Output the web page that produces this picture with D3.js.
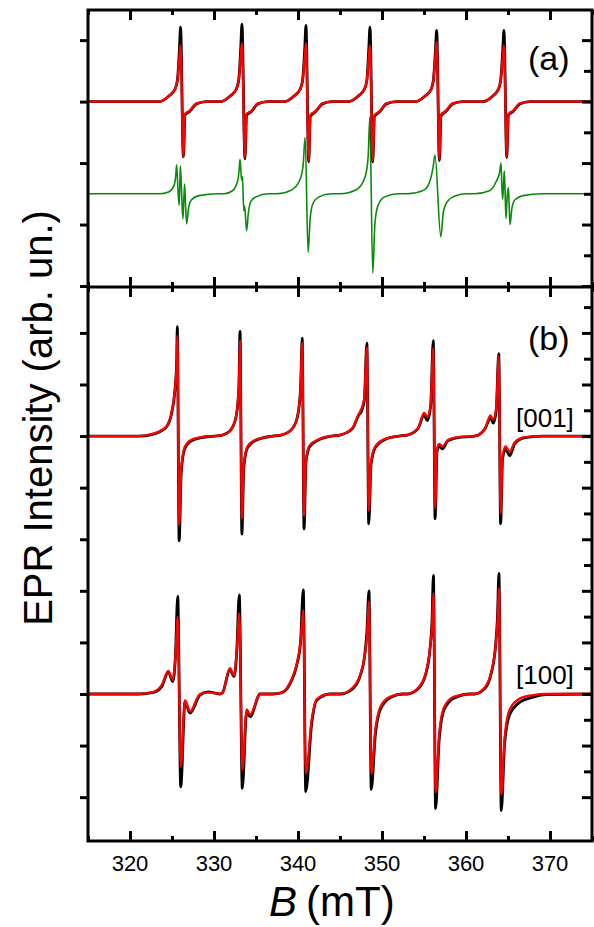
<!DOCTYPE html>
<html>
<head>
<meta charset="utf-8">
<script src="https://cdn.jsdelivr.net/npm/d3@7"></script>
<style>
  body { margin: 0; background: #fff; }
  text { font-family: Arial, "Liberation Sans", sans-serif; }
</style>
</head>
<body>
<div id="chart"></div>
<script>
// field axis
var fieldRange = [315, 375];
var fieldTicks = [320, 330, 340, 350, 360, 370];

// panel (a): experiment (black), fit (red), simulated components (green)
var aExp = [[315,3],[323.5,3],[324.7,3.1],[325.35,3.2],[325.65,3.35],[325.88,3.84],[326.02,4.21],[326.35,2.1],[326.55,2.78],[327.1,2.84],[327.9,2.96],[329.1,3],
  [330.8,3],[332,3.1],[332.65,3.2],[332.95,3.36],[333.18,3.86],[333.33,4.26],[333.68,2.07],[333.88,2.78],[334.45,2.84],[335.2,2.96],[336.4,3],
  [338.4,3],[339.6,3.1],[340.25,3.2],[340.55,3.35],[340.8,3.85],[340.95,4.24],[341.27,2.02],[341.47,2.76],[342.05,2.83],[342.9,2.96],[344,3],
  [346,3],[347.25,3.1],[347.9,3.2],[348.2,3.35],[348.42,3.84],[348.57,4.21],[348.9,2.02],[349.1,2.76],[349.7,2.83],[350.5,2.96],[351.7,3],
  [354,3],[355.2,3.1],[355.85,3.2],[356.12,3.35],[356.36,3.82],[356.51,4.16],[356.83,2.04],[357.03,2.77],[357.6,2.84],[358.4,2.96],[359.6,3],
  [362,3],[363.25,3.1],[363.85,3.2],[364.13,3.35],[364.37,3.82],[364.52,4.16],[364.85,2.09],[365.05,2.78],[365.6,2.84],[366.4,2.96],[367.6,3],[375,3]];
var aFit = [[315,3],[323.5,3],[324.7,3.1],[325.35,3.2],[325.65,3.35],[325.88,3.72],[326.02,3.92],[326.35,2.1],[326.55,2.8],[327.1,2.85],[327.9,2.97],[329.1,3],
  [330.8,3],[332,3.1],[332.65,3.2],[332.95,3.36],[333.18,3.74],[333.33,3.95],[333.68,2.09],[333.88,2.8],[334.45,2.85],[335.2,2.97],[336.4,3],
  [338.4,3],[339.6,3.1],[340.25,3.2],[340.55,3.35],[340.8,3.73],[340.95,3.95],[341.27,2.04],[341.47,2.78],[342.05,2.84],[342.9,2.97],[344,3],
  [346,3],[347.25,3.1],[347.9,3.2],[348.2,3.35],[348.42,3.72],[348.57,3.92],[348.9,2.04],[349.1,2.78],[349.7,2.84],[350.5,2.97],[351.7,3],
  [354,3],[355.2,3.1],[355.85,3.2],[356.12,3.35],[356.36,3.75],[356.51,3.97],[356.83,2.06],[357.03,2.79],[357.6,2.85],[358.4,2.97],[359.6,3],
  [362,3],[363.25,3.1],[363.85,3.2],[364.13,3.35],[364.37,3.72],[364.52,3.92],[364.85,2.11],[365.05,2.8],[365.6,2.85],[366.4,2.97],[367.6,3],[375,3]];
var aSim = [[315,1.5],[323.5,1.5],[324.6,1.53],[325.2,1.62],[325.45,1.8],[325.55,1.97],[325.7,1.6],[325.85,1.31],[325.95,1.75],[326.0,1.95],[326.15,1.5],[326.3,1.09],[326.42,1.45],[326.5,1.66],[326.62,1.3],[326.75,1.01],[326.95,1.25],[327.3,1.4],[328.2,1.47],[330.5,1.5],
  [331.2,1.5],[332.2,1.55],[332.8,1.7],[333.0,1.9],[333.1,2.06],[333.28,1.72],[333.38,1.78],[333.55,1.22],[333.65,1.3],[333.88,0.9],[334.1,1.2],[334.4,1.38],[335,1.45],[336.5,1.5],
  [337.5,1.5],[339.2,1.56],[340.2,1.72],[340.6,1.95],[340.85,2.42],[341.2,0.55],[341.45,1.1],[341.8,1.35],[342.5,1.45],[344,1.5],
  [345,1.5],[347,1.57],[348,1.78],[348.35,2.1],[348.55,2.75],[348.9,0.21],[349.15,1.0],[349.5,1.3],[350.3,1.45],[352,1.5],
  [353,1.5],[355,1.56],[355.8,1.75],[356.1,1.95],[356.3,2.13],[357.0,0.8],[357.3,1.2],[357.8,1.38],[358.8,1.47],[360,1.5],
  [361,1.5],[362.8,1.55],[363.6,1.7],[364.0,1.85],[364.17,2.0],[364.27,1.6],[364.37,1.41],[364.48,1.7],[364.56,1.87],[364.66,1.5],[364.76,1.1],[364.9,1.45],[365.04,1.6],[365.14,1.3],[365.24,1.0],[365.45,1.25],[365.8,1.4],[366.8,1.47],[369,1.5],[375,1.5]];

// panel (b): [001] orientation, baseline 7
var b001Exp = [[315,7],[321,7],[322.6,7.03],[323.6,7.09],[324.4,7.19],[324.95,7.44],[325.35,7.89],[325.55,8.41],[325.63,9.12],[325.85,4.97],[326.1,6.3],[326.5,6.75],[327.2,6.9],[328.5,6.97],[330,7],
  [331,7.02],[331.9,7.1],[332.6,7.35],[332.95,7.9],[333.1,9.03],[333.32,5.1],[333.55,6.4],[334,6.78],[335,6.92],[337,7],
  [338,7.02],[339.2,7.12],[339.9,7.35],[340.3,7.9],[340.5,8.9],[340.72,5.2],[340.95,6.5],[341.4,6.8],[342.5,6.93],[344,7],
  [345,7.02],[346.5,7.15],[347.2,7.4],[347.6,7.5],[347.9,7.7],[348.2,8.8],[348.42,5.3],[348.7,6.45],[349.2,6.78],[350.3,6.93],[352,7],
  [353,7.02],[354.3,7.15],[355.0,7.4],[355.4,7.3],[355.8,7.6],[356.1,8.85],[356.32,5.4],[356.55,6.7],[356.8,6.8],[357.2,6.75],[357.8,6.9],[359,6.97],[361,7],
  [361.5,7.02],[362.3,7.15],[362.9,7.35],[363.25,7.25],[363.6,7.5],[363.9,8.6],[364.12,5.3],[364.35,6.55],[364.7,6.75],[365.2,6.62],[365.8,6.85],[367,6.97],[369,7],[375,7]];
var b001Fit = [[315,7],[321,7],[322.6,7.04],[323.6,7.1],[324.4,7.2],[324.95,7.46],[325.35,7.9],[325.55,8.4],[325.63,8.94],[325.85,5.28],[326.1,6.35],[326.5,6.78],[327.2,6.92],[328.5,6.98],[330,7],
  [331,7.02],[331.9,7.1],[332.6,7.36],[332.95,7.9],[333.1,8.85],[333.32,5.4],[333.55,6.45],[334,6.8],[335,6.93],[337,7],
  [338,7.02],[339.2,7.12],[339.9,7.36],[340.3,7.9],[340.5,8.8],[340.72,5.45],[340.95,6.55],[341.4,6.82],[342.5,6.94],[344,7],
  [345,7.02],[346.5,7.16],[347.2,7.42],[347.6,7.55],[347.9,7.75],[348.2,8.72],[348.42,5.55],[348.7,6.5],[349.2,6.8],[350.3,6.94],[352,7],
  [353,7.02],[354.3,7.16],[355.0,7.45],[355.4,7.38],[355.8,7.62],[356.1,8.7],[356.32,5.6],[356.55,6.75],[356.8,6.85],[357.2,6.8],[357.8,6.92],[359,6.98],[361,7],
  [361.5,7.02],[362.3,7.16],[362.9,7.4],[363.25,7.32],[363.6,7.55],[363.9,8.55],[364.12,5.5],[364.35,6.6],[364.7,6.8],[365.2,6.7],[365.8,6.88],[367,6.98],[369,7],[375,7]];

// panel (b): [100] orientation, baseline 2
var b100Exp = [[315,2],[321,2],[322.8,2.03],[323.8,2.15],[324.56,2.43],[325.08,2.24],[325.4,2.7],[325.68,3.89],[326.04,0.2],[326.55,1.85],[327.14,1.63],[328.33,1.98],[329.3,2.04],[330.7,2],
  [331,2.02],[331.9,2.47],[332.38,2.34],[332.7,2.8],[333.01,3.92],[333.37,0.17],[333.89,1.66],[334.29,1.56],[335.5,2],[337,2],
  [338,2.02],[339.2,2.25],[339.85,2.56],[340.3,3.0],[340.63,4.02],[340.92,0.11],[341.63,1.43],[342.23,1.88],[343.8,2],
  [345,2],[346.5,2.1],[347.4,2.35],[347.9,2.7],[348.2,3.2],[348.45,4.0],[348.72,0.15],[349.2,1.2],[349.8,1.7],[351,1.93],[352.5,2],
  [353,2],[354.3,2.1],[355.2,2.38],[355.7,2.85],[355.95,3.4],[356.12,4.3],[356.38,-0.22],[356.8,1.1],[357.4,1.7],[358.6,1.92],[360.5,2],
  [361,2],[362.2,2.1],[363.0,2.4],[363.5,2.9],[363.75,3.5],[363.92,4.34],[364.2,-0.26],[364.6,1.05],[365.2,1.6],[366.5,1.85],[368,1.94],[369.5,1.99],[375,2]];
var b100Fit = [[315,2],[321,2],[322.8,2.04],[323.8,2.18],[324.56,2.45],[325.08,2.27],[325.4,2.7],[325.68,3.5],[326.04,0.59],[326.55,1.88],[327.14,1.66],[328.33,2],[329.3,2.03],[330.7,2],
  [331,2.02],[331.9,2.5],[332.38,2.36],[332.7,2.8],[333.01,3.56],[333.37,0.53],[333.89,1.7],[334.29,1.6],[335.5,2],[337,2],
  [338,2.02],[339.2,2.27],[339.85,2.58],[340.3,3.0],[340.63,3.63],[340.92,0.46],[341.63,1.5],[342.23,1.9],[343.8,2],
  [345,2],[346.5,2.12],[347.4,2.37],[347.9,2.7],[348.2,3.1],[348.45,3.8],[348.72,0.45],[349.2,1.3],[349.8,1.75],[351,1.95],[352.5,2],
  [353,2],[354.3,2.12],[355.2,2.4],[355.7,2.85],[355.95,3.3],[356.12,3.95],[356.38,0.1],[356.8,1.2],[357.4,1.75],[358.6,1.95],[360.5,2],
  [361,2],[362.2,2.12],[363.0,2.42],[363.5,2.9],[363.75,3.4],[363.92,4.05],[364.2,0.05],[364.6,1.15],[365.2,1.7],[366.5,1.92],[368,1.98],[369.5,2],[375,2]];

var width = 594, height = 927;
var margin = {left: 88, right: 2, top: 10, bottom: 86};
var splitY = 287;

var svg = d3.select("#chart").append("svg")
    .attr("width", width)
    .attr("height", height);

var x = d3.scaleLinear().domain(fieldRange).range([margin.left, width - margin.right]);
var yA = d3.scaleLinear().domain([-0.016, 4.49]).range([splitY, margin.top]);
var yB = d3.scaleLinear().domain([-0.85, 9.89]).range([height - margin.bottom, splitY]);

function drawCurve(data, yScale, color, w) {
    var line = d3.line()
        .x(function(d) { return x(d[0]); })
        .y(function(d) { return yScale(d[1]); })
        .curve(d3.curveMonotoneX);
    svg.append("path")
        .datum(data)
        .attr("d", line)
        .attr("fill", "none")
        .attr("stroke", color)
        .attr("stroke-width", w)
        .attr("stroke-linejoin", "round");
}

drawCurve(aSim, yA, "#0a8a0a", 1.6);
drawCurve(aExp, yA, "#000", 2.8);
drawCurve(aFit, yA, "#ff0000", 2.3);
drawCurve(b001Exp, yB, "#000", 2.8);
drawCurve(b001Fit, yB, "#ff0000", 2.3);
drawCurve(b100Exp, yB, "#000", 2.8);
drawCurve(b100Fit, yB, "#ff0000", 2.3);

// axes
var minorField = d3.range(315, 376, 5).filter(function(v) { return fieldTicks.indexOf(v) < 0; });

function fieldAxis(y, dir) {
    var g = svg.append("g").attr("transform", "translate(0," + y + ")");
    g.append("g").call(
        (dir < 0 ? d3.axisTop(x) : d3.axisBottom(x))
            .tickValues(fieldTicks).tickSize(10).tickSizeOuter(0).tickFormat(""));
    g.append("g").call(
        (dir < 0 ? d3.axisTop(x) : d3.axisBottom(x))
            .tickValues(minorField).tickSize(5).tickSizeOuter(0).tickFormat(""));
    g.selectAll(".domain").remove();
    g.selectAll("line").attr("stroke", "#000").attr("stroke-width", 3);
    return g;
}
fieldAxis(margin.top, 1);
fieldAxis(splitY, -1);
fieldAxis(splitY, 1);
fieldAxis(height - margin.bottom, -1);

// bottom tick labels
svg.append("g").selectAll("text").data(fieldTicks).enter().append("text")
    .attr("x", function(d) { return x(d); })
    .attr("y", 871)
    .attr("text-anchor", "middle")
    .style("font-size", "22px")
    .text(function(d) { return d; });

// intensity ticks: left outward majors, right inward majors + minors
function intensityAxis(yScale, majors) {
    var minors = majors.map(function(v) { return v + 0.5; }).filter(function(v) { return v < yScale.domain()[1]; });
    var gl = svg.append("g").attr("transform", "translate(" + margin.left + ",0)")
        .call(d3.axisLeft(yScale).tickValues(majors).tickSize(8).tickSizeOuter(0).tickFormat(""));
    var gr = svg.append("g").attr("transform", "translate(" + (width - margin.right) + ",0)")
        .call(d3.axisRight(yScale).tickValues(majors.concat(minors)).tickSize(9).tickSizeOuter(0).tickFormat(""));
    [gl, gr].forEach(function(g) {
        g.selectAll(".domain").remove();
        g.selectAll("line").attr("stroke", "#000").attr("stroke-width", 3);
    });
    gr.selectAll("line").attr("x2", function(d) { return majors.indexOf(d) >= 0 ? -10 : -8; });
}
intensityAxis(yA, [0, 1, 2, 3, 4]);
intensityAxis(yB, [0, 1, 2, 3, 4, 5, 6, 7, 8, 9]);

// frame and divider
svg.append("rect")
    .attr("x", margin.left).attr("y", margin.top)
    .attr("width", width - margin.left - margin.right)
    .attr("height", height - margin.top - margin.bottom)
    .attr("fill", "none").attr("stroke", "#000").attr("stroke-width", 3);
svg.append("line")
    .attr("x1", margin.left).attr("x2", width - margin.right)
    .attr("y1", splitY).attr("y2", splitY)
    .attr("stroke", "#000").attr("stroke-width", 3);

// labels
svg.append("text").attr("x", 528).attr("y", 70).style("font-size", "34px").text("(a)");
svg.append("text").attr("x", 528).attr("y", 350).style("font-size", "34px").text("(b)");
svg.append("text").attr("x", 516).attr("y", 427).style("font-size", "26px").text("[001]");
svg.append("text").attr("x", 516).attr("y", 684).style("font-size", "26px").text("[100]");

svg.append("text")
    .attr("transform", "translate(52,418) rotate(-90)")
    .attr("text-anchor", "middle")
    .style("font-size", "40px")
    .text("EPR Intensity (arb. un.)");

svg.append("text")
    .attr("x", 297).attr("y", 916)
    .attr("text-anchor", "end")
    .style("font-size", "42px")
    .style("font-style", "italic")
    .text("B");
svg.append("text")
    .attr("x", 306).attr("y", 916)
    .style("font-size", "42px")
    .text("(mT)");
</script>
</body>
</html>
